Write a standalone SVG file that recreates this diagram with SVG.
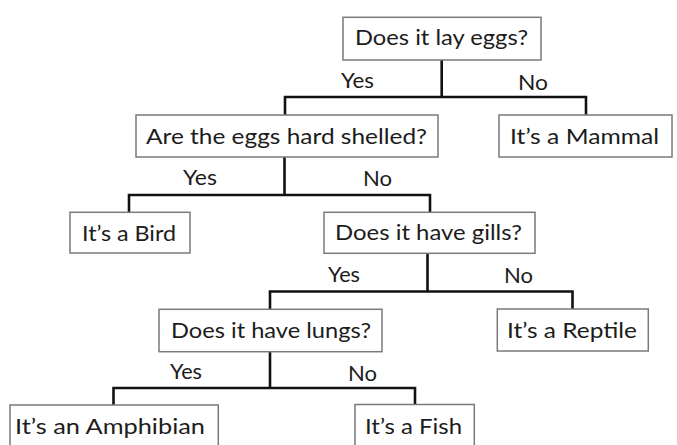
<svg xmlns="http://www.w3.org/2000/svg" width="677" height="445" viewBox="0 0 677 445">
<style>
.box{fill:#fff;stroke:#7a7a7a;stroke-width:1.5}
.t{font-family:Lato,"Open Sans","Liberation Sans",sans-serif;font-size:22px;fill:#1c1c1c}
.lbl{font-family:Lato,"Open Sans","Liberation Sans",sans-serif;font-size:21px;fill:#1c1c1c}
.c{fill:none;stroke:#111;stroke-width:2.6;stroke-linejoin:miter}
</style>
<rect width="677" height="445" fill="#fff"/>
<g id="connectors">
<path class="c" d="M441.7,60 V97 M285,115 V97 H586 V115"/>
<path class="c" d="M284.5,157 V195 M129,212 V195 H430 V212"/>
<path class="c" d="M427.5,253 V291.5 M270,309 V291.5 H572.5 V309"/>
<path class="c" d="M270,352 V388 M113.5,405 V388 H415 V404.5"/>
<g id="edge-labels">
<text class="lbl" x="341" y="88" textLength="33" lengthAdjust="spacingAndGlyphs">Yes</text>
<text class="lbl" x="518" y="89.5" textLength="30" lengthAdjust="spacingAndGlyphs">No</text>
<text class="lbl" x="183" y="185" textLength="34" lengthAdjust="spacingAndGlyphs">Yes</text>
<text class="lbl" x="363" y="186" textLength="29" lengthAdjust="spacingAndGlyphs">No</text>
<text class="lbl" x="328" y="281.7" textLength="32" lengthAdjust="spacingAndGlyphs">Yes</text>
<text class="lbl" x="504" y="283" textLength="29" lengthAdjust="spacingAndGlyphs">No</text>
<text class="lbl" x="170" y="379.3" textLength="32" lengthAdjust="spacingAndGlyphs">Yes</text>
<text class="lbl" x="348" y="380.7" textLength="29" lengthAdjust="spacingAndGlyphs">No</text>
</g>
</g>
<g id="q-lay-eggs">
<rect class="box" x="343" y="17.3" width="198" height="42.7"/>
<text class="t" x="355" y="45" textLength="173" lengthAdjust="spacingAndGlyphs">Does it lay eggs?</text>
</g>
<g id="q-hard-shelled">
<rect class="box" x="136" y="115" width="302" height="42"/>
<text class="t" x="146" y="143.5" textLength="281" lengthAdjust="spacingAndGlyphs">Are the eggs hard shelled?</text>
</g>
<g id="mammal">
<rect class="box" x="499" y="115" width="173" height="42"/>
<text class="t" x="510" y="144" textLength="149" lengthAdjust="spacingAndGlyphs">It’s a Mammal</text>
</g>
<g id="bird">
<rect class="box" x="70" y="212.3" width="120" height="40.7"/>
<text class="t" x="82" y="240.5" textLength="94" lengthAdjust="spacingAndGlyphs">It’s a Bird</text>
</g>
<g id="q-gills">
<rect class="box" x="324" y="212.3" width="211" height="41"/>
<text class="t" x="335" y="239.5" textLength="187" lengthAdjust="spacingAndGlyphs">Does it have gills?</text>
</g>
<g id="q-lungs">
<rect class="box" x="159" y="309.3" width="223" height="42.4"/>
<text class="t" x="171" y="337.7" textLength="200" lengthAdjust="spacingAndGlyphs">Does it have lungs?</text>
</g>
<g id="reptile">
<rect class="box" x="497.3" y="309" width="151" height="42"/>
<text class="t" x="507" y="337.7" textLength="130" lengthAdjust="spacingAndGlyphs">It’s a Reptile</text>
</g>
<g id="amphibian">
<rect class="box" x="10" y="405" width="208.3" height="42"/>
<text class="t" x="15" y="434" textLength="190" lengthAdjust="spacingAndGlyphs">It’s an Amphibian</text>
</g>
<g id="fish">
<rect class="box" x="355" y="404.5" width="119.3" height="42.5"/>
<text class="t" x="365" y="434" textLength="97" lengthAdjust="spacingAndGlyphs">It’s a Fish</text>
</g>
</svg>
